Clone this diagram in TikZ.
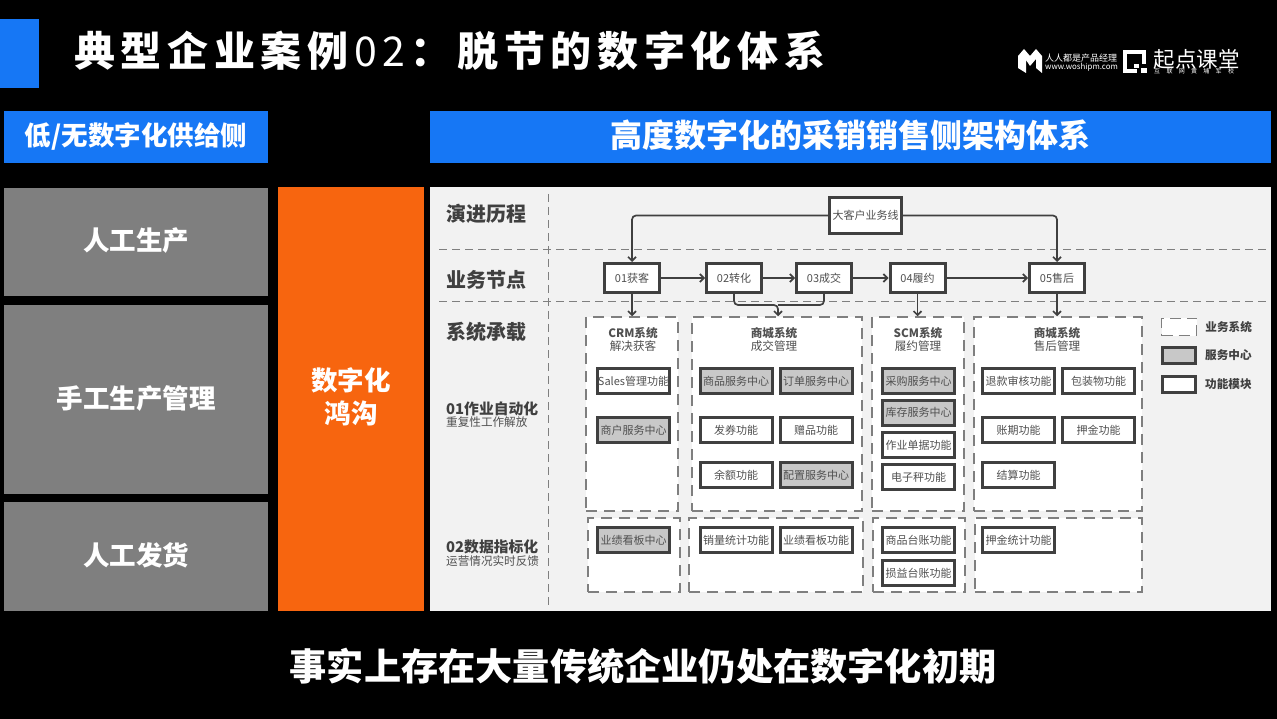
\documentclass[tikz,border=0pt]{standalone}
\usepackage{fontspec}
\setmainfont{Noto Sans CJK SC}
\usetikzlibrary{arrows.meta,positioning}
\definecolor{accent}{HTML}{1677F5}
\definecolor{gulf}{HTML}{F7650F}
\definecolor{slab}{HTML}{7F7F7F}
\definecolor{panel}{HTML}{F2F2F2}
\definecolor{ink}{HTML}{404040}
\definecolor{soft}{HTML}{505050}
\definecolor{fill}{HTML}{C8C8C8}
\tikzset{
  banner/.style={fill=accent,text=white,font=\bfseries\fontsize{26.5}{30}\selectfont,inner sep=0pt,text height=23.3pt,text depth=6pt},
  slabbox/.style={fill=slab,text=white,font=\bfseries\fontsize{26.5}{30}\selectfont,minimum width=264pt,inner sep=0pt,text height=23.3pt,text depth=6pt},
  rowlabel/.style={anchor=west,text=ink,font=\bfseries\fontsize{20}{22}\selectfont,inner sep=0pt},
  levelhead/.style={anchor=west,inner sep=0pt,text=ink,font=\bfseries\fontsize{14.8}{16}\selectfont},
  leveltwo/.style={anchor=west,inner sep=0pt,text=soft,font=\fontsize{11.6}{12}\selectfont},
  stage/.style={draw=ink,line width=3pt,fill=white,text=soft,font=\fontsize{11}{13}\selectfont,minimum width=55pt,minimum height=29pt,inner sep=0pt},
  func/.style={draw=ink,line width=3pt,fill=white,text=soft,font=\fontsize{11}{13}\selectfont,minimum width=72pt,minimum height=25pt,inner sep=0pt},
  center/.style={func,fill=fill},
  sysbox/.style={draw=slab,line width=1.5pt,dash pattern=on 11pt off 7pt,fill=white,inner sep=0pt},
  systitle/.style={align=center,inner sep=0pt,text=soft,font=\fontsize{11.6}{13.2}\selectfont},
  keytext/.style={anchor=west,inner sep=0pt,text=ink,font=\bfseries\fontsize{11.6}{13}\selectfont},
  guide/.style={draw=slab,line width=.8pt,dash pattern=on 8pt off 5pt},
  link/.style={draw=ink,line width=1.7pt,rounded corners=4pt,-{Straight Barb[length=4pt,width=8pt]}}
}
\begin{document}
\begin{tikzpicture}[x=1pt,y=-1pt]
  \fill[black] (0,0) rectangle (1277,719);
  \useasboundingbox (0,0) rectangle (1277,719);
  \fill[accent] (0,19) rectangle (39,88);

  % title
  \node[anchor=west,inner sep=0pt,text=white,font=\fontsize{41}{46}\selectfont\addfontfeature{LetterSpace=13.8}] (title) at (74,51)
    {\textbf{典型企业案例}02\textbf{：脱节的数字化体系}};

  % logos
  \fill[white] (1018,56) -- (1024,49) -- (1030,56) -- (1036,49) -- (1042,56) -- (1042,73) -- (1036,68) -- (1036,59) -- (1030,66) -- (1026,60) -- (1026,73) -- (1018,68) -- cycle;
  \node[anchor=west,inner sep=0pt,text=white,font=\fontsize{9}{10}\selectfont] (pmcn) at (1045,58.5) {人人都是产品经理};
  \node[anchor=west,inner sep=0pt,text=white,font=\fontsize{7.9}{10}\selectfont] (pmurl) at (1045,67.5) {www.woshipm.com};
  \draw[white,line width=4pt] (1144,64) -- (1144,52) -- (1125,52) -- (1125,71) -- (1137,71);
  \fill[white] (1134,64) rectangle (1139,68);
  \fill[white] (1141,68) rectangle (1147,73);
  \node[anchor=west,inner sep=0pt,text=white,font=\fontsize{21.5}{24}\selectfont\addfontfeature{LetterSpace=1.5}] (qidian) at (1153,59) {起点课堂};
  \node[anchor=west,inner sep=0pt,text=white,font=\fontsize{6}{7}\selectfont\addfontfeature{LetterSpace=105}] (huangpu) at (1154,71.5) {互联网黄埔军校};

  % left column
  \node[banner,minimum width=264pt,minimum height=52pt] (supply) at (136,137) {低/无数字化供给侧};
  \node[banner,minimum width=841pt,minimum height=52pt,font=\bfseries\fontsize{32}{36}\selectfont,text height=28pt,text depth=6.5pt] (demand) at (850.5,137) {高度数字化的采销销售侧架构体系};
  \node[slabbox,minimum height=108pt] (manufacture) at (136,242) {人工生产};
  \node[slabbox,minimum height=189pt] (manage) at (136,399.5) {手工生产管理};
  \node[slabbox,minimum height=109pt] (deliver) at (136,556.5) {人工发货};
  \node[fill=gulf,text=white,font=\bfseries\fontsize{26.5}{33}\selectfont,align=center,minimum width=146pt,minimum height=424pt,inner sep=0pt,text depth=6pt] (gulfbox) at (351,399) {数字化\\鸿沟};

  % panel
  \fill[panel] (430,187) rectangle (1271,611);
  \coordinate (vtop) at (548,194);
  \coordinate (vbot) at (548,608);
  \coordinate (hal) at (439,249.5);
  \coordinate (har) at (1268,249.5);
  \coordinate (hbl) at (439,301);
  \coordinate (hbr) at (1268,301);
  \draw[guide] (vtop) -- (vbot);
  \draw[guide] (hal) -- (har);
  \draw[guide] (hbl) -- (hbr);

  \node[rowlabel] (evolve) at (446,214) {演进历程};
  \node[rowlabel] (nodes) at (446,280) {业务节点};
  \node[rowlabel] (carry) at (446,331.5) {系统承载};
  \node[levelhead] (autohead) at (446,408.5) {01作业自动化};
  \node[leveltwo] (autosub) at (446,422) {重复性工作解放};
  \node[levelhead] (datahead) at (446,547) {02数据指标化};
  \node[leveltwo] (datasub) at (446,561.5) {运营情况实时反馈};

  % business systems
  \node[sysbox,minimum width=92pt,minimum height=194pt] (crm) at (632,414) {};
  \node[sysbox,minimum width=170pt,minimum height=194pt] (mall) at (777,414) {};
  \node[sysbox,minimum width=92pt,minimum height=194pt] (scm) at (918,414) {};
  \node[sysbox,minimum width=168pt,minimum height=194pt] (after) at (1058,414) {};
  \node[sysbox,minimum width=92pt,minimum height=74pt] (crmdata) at (634,555) {};
  \node[sysbox,minimum width=174pt,minimum height=74pt] (malldata) at (776,555) {};
  \node[sysbox,minimum width=92pt,minimum height=74pt] (scmdata) at (919,555) {};
  \node[sysbox,minimum width=167pt,minimum height=74pt] (afterdata) at (1058.5,555) {};

  \node[systitle] (crmtitle) at (633,339.5) {\textbf{CRM系统}\\解决获客};
  \node[systitle] (malltitle) at (774,339.5) {\textbf{商城系统}\\成交管理};
  \node[systitle] (scmtitle) at (918,339.5) {\textbf{SCM系统}\\履约管理};
  \node[systitle] (aftertitle) at (1057,339.5) {\textbf{商城系统}\\售后管理};

  % stages
  \node[stage,minimum width=72pt,minimum height=36pt] (bigclient) at (865.5,215.5) {大客户业务线};
  \node[stage] (s01) at (632,278) {01获客};
  \node[stage] (s02) at (734,278) {02转化};
  \node[stage] (s03) at (824,278) {03成交};
  \node[stage] (s04) at (917.5,278) {04履约};
  \node[stage] (s05) at (1057,278) {05售后};
  \coordinate (merge) at (778,305);

  \path[link]
    (s01) edge (s02)
    (s02) edge (s03)
    (s03) edge (s04)
    (s04) edge (s05)
    (s01) edge (crm)
    (s04) edge (s04 |- scm.north)
    (s05) edge (s05 |- after.north);
  \draw[link] (bigclient.west) -| (s01.north);
  \draw[link] (bigclient.east) -| (s05.north);
  \draw[link] (s02.south) |- (merge) -- (merge |- mall.north);
  \draw[link,-] (s03.south) |- (merge);

  % modules, row by row
  \node[func] (sales) at (633.5,381) {Sales管理功能};
  \node[center] (goods) at (736,381) {商品服务中心};
  \node[center,right=5pt of goods] (order) {订单服务中心};
  \node[center] (purchase) at (918.5,381) {采购服务中心};
  \node[func] (refund) at (1018.5,381) {退款审核功能};
  \node[func,right=5pt of refund] (pack) {包装物功能};

  \node[center] (merchant) at (633.5,430) {商户服务中心};
  \node[func] (coupon) at (736,430) {发券功能};
  \node[func,right=5pt of coupon] (gift) {赠品功能};
  \node[func] (term) at (1018.5,430) {账期功能};
  \node[func,right=5pt of term] (deposit) {押金功能};

  \node[func] (balance) at (736,475) {余额功能};
  \node[center,right=5pt of balance] (config) {配置服务中心};
  \node[func] (settle) at (1018.5,475) {结算功能};

  \node[center] (stock) at (918.5,412.5) {库存服务中心};
  \node[func] (bill) at (918.5,445) {作业单据功能};
  \node[func] (scale) at (918.5,477) {电子秤功能};

  \node[center] (board) at (633.5,540) {业绩看板中心};
  \node[func] (salesstat) at (736,540) {销量统计功能};
  \node[func,right=5pt of salesstat] (boardfn) {业绩看板功能};
  \node[func] (goodsbook) at (918.5,540) {商品台账功能};
  \node[func] (lossbook) at (918.5,573) {损益台账功能};
  \node[func] (depositstat) at (1018.5,540) {押金统计功能};

  % legend
  \node[sysbox,minimum width=35pt,minimum height=17pt,dash pattern=on 11pt off 6pt] (keysys) at (1179,327) {};
  \node[center,minimum width=33pt,minimum height=16pt,font=\normalsize] (keycenter) at (1179,355.5) {};
  \node[func,minimum width=33pt,minimum height=16pt,font=\normalsize] (keyfunc) at (1179,384.5) {};
  \node[keytext] (keysystext) [right=8pt of keysys] {业务系统};
  \node[keytext] (keycentertext) [right=8pt of keycenter] {服务中心};
  \node[keytext] (keyfunctext) [right=8pt of keyfunc] {功能模块};

  % closing line
  \node[inner sep=0pt,text=white,font=\bfseries\fontsize{37.2}{42}\selectfont] (closing) at (643,666) {事实上存在大量传统企业仍处在数字化初期};
\end{tikzpicture}
\end{document}
